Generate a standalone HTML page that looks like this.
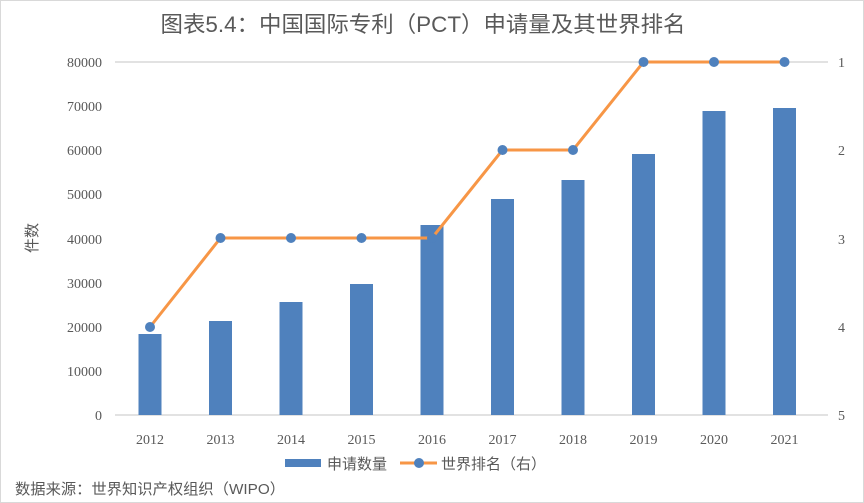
<!DOCTYPE html>
<html><head><meta charset="utf-8"><style>
body{margin:0;background:#fff}
svg{display:block}
text{font-family:"Liberation Serif","Noto Serif CJK SC",serif;fill:#595959}
.cjk{font-family:"Liberation Sans","Noto Sans CJK SC",sans-serif}
</style></head><body>
<svg width="864" height="503" viewBox="0 0 864 503">
<rect x="0.5" y="0.5" width="863" height="502" fill="#fff" stroke="#d9d9d9" stroke-width="1"/>
<text class="cjk" x="423" y="32" font-size="22" text-anchor="middle" fill="#595959" textLength="525" lengthAdjust="spacingAndGlyphs">图表5.4：中国国际专利（PCT）申请量及其世界排名</text>
<line x1="115" y1="62" x2="828" y2="62" stroke="#d9d9d9" stroke-width="1.5"/>
<line x1="115" y1="415" x2="828" y2="415" stroke="#d9d9d9" stroke-width="1.5"/>
<g font-size="14" text-anchor="end">
<text x="102" y="67">80000</text><text x="102" y="111">70000</text><text x="102" y="155">60000</text>
<text x="102" y="199">50000</text><text x="102" y="244">40000</text><text x="102" y="288">30000</text>
<text x="102" y="332">20000</text><text x="102" y="376">10000</text><text x="102" y="420">0</text>
</g>
<g font-size="14">
<text x="838" y="67">1</text><text x="838" y="155">2</text><text x="838" y="244">3</text><text x="838" y="332">4</text><text x="838" y="420">5</text>
</g>
<text class="cjk" font-size="15" transform="translate(37,238) rotate(-90)" text-anchor="middle">件数</text>
<g fill="#4f81bd">
<rect x="138.5" y="334" width="23" height="81"/>
<rect x="209" y="321" width="23" height="94"/>
<rect x="279.5" y="302" width="23" height="113"/>
<rect x="350" y="284" width="23" height="131"/>
<rect x="420.5" y="225" width="23" height="190"/>
<rect x="491" y="199" width="23" height="216"/>
<rect x="561.5" y="180" width="23" height="235"/>
<rect x="632" y="154" width="23" height="261"/>
<rect x="702.5" y="111" width="23" height="304"/>
<rect x="773" y="108" width="23" height="307"/>
</g>
<polyline points="150,327 220.5,238 291,238 361.5,238 432,238 502.5,150 573,150 643.5,62 714,62 784.5,62" fill="none" stroke="#f79646" stroke-width="3"/>
<g fill="#4f81bd">
<circle cx="150" cy="327" r="5"/><circle cx="220.5" cy="238" r="5"/><circle cx="291" cy="238" r="5"/>
<circle cx="361.5" cy="238" r="5"/><circle cx="432" cy="238" r="5"/><circle cx="502.5" cy="150" r="5"/>
<circle cx="573" cy="150" r="5"/><circle cx="643.5" cy="62" r="5"/><circle cx="714" cy="62" r="5"/><circle cx="784.5" cy="62" r="5"/>
</g>
<g font-size="14" text-anchor="middle">
<text x="150" y="444">2012</text><text x="220.5" y="444">2013</text><text x="291" y="444">2014</text>
<text x="361.5" y="444">2015</text><text x="432" y="444">2016</text><text x="502.5" y="444">2017</text>
<text x="573" y="444">2018</text><text x="643.5" y="444">2019</text><text x="714" y="444">2020</text><text x="784.5" y="444">2021</text>
</g>
<rect x="285" y="459" width="36" height="8" fill="#4f81bd"/>
<text class="cjk" x="327" y="469" font-size="15">申请数量</text>
<line x1="400" y1="463" x2="437" y2="463" stroke="#f79646" stroke-width="3"/>
<circle cx="419" cy="463" r="5" fill="#4f81bd"/>
<text class="cjk" x="441" y="469" font-size="15">世界排名（右）</text>
<text class="cjk" x="15" y="494" font-size="15" fill="#222" textLength="270" lengthAdjust="spacingAndGlyphs">数据来源：世界知识产权组织（WIPO）</text>
</svg>
</body></html>
